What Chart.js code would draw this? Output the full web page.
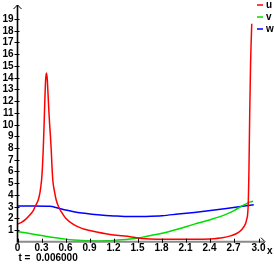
<!DOCTYPE html>
<html>
<head>
<meta charset="UTF-8">
<title>u v w</title>
<script src="https://cdn.jsdelivr.net/npm/chart.js"></script>
<style>
    body { margin: 0; padding: 0; background: #fff; }
    #wrap { width: 274px; height: 265px; position: relative; }
</style>
</head>
<body>
<div id="wrap"><canvas id="chart"></canvas></div>
<script>
// values
const uX = [0, 0.05, 0.1, 0.15, 0.2, 0.22, 0.26, 0.28, 0.29, 0.3, 0.31, 0.32, 0.33, 0.34, 0.35, 0.36, 0.37, 0.38, 0.39, 0.4, 0.41, 0.42, 0.43, 0.44, 0.46, 0.48, 0.51, 0.55, 0.6, 0.7, 0.8, 0.9, 1.0, 1.1, 1.2, 1.3, 1.4, 1.5, 1.6, 1.8, 2.0, 2.2, 2.4, 2.55, 2.65, 2.75, 2.82, 2.85, 2.87, 2.88, 2.89, 2.9, 2.915];
const uY = [1.5, 1.65, 1.9, 2.25, 2.7, 3.0, 3.6, 4.2, 4.7, 5.3, 6.3, 7.8, 9.8, 12.0, 13.8, 14.4, 13.9, 12.6, 11.2, 10.0, 9.0, 7.8, 6.3, 5.2, 4.3, 3.6, 3.0, 2.5, 2.0, 1.45, 1.14, 0.95, 0.8, 0.67, 0.57, 0.5, 0.43, 0.32, 0.26, 0.21, 0.2, 0.2, 0.24, 0.34, 0.5, 0.8, 1.3, 1.85, 3.0, 6, 11, 15, 18.6];

const vX = [0, 0.1, 0.2, 0.3, 0.4, 0.5, 0.6, 0.7, 0.8, 0.9, 1.0, 1.1, 1.2, 1.3, 1.4, 1.5, 1.6, 1.8, 2.0, 2.2, 2.4, 2.6, 2.7, 2.8, 2.9, 2.93];
const vY = [0.87, 0.76, 0.64, 0.52, 0.41, 0.31, 0.22, 0.15, 0.1, 0.08, 0.07, 0.08, 0.11, 0.16, 0.23, 0.32, 0.45, 0.72, 1.08, 1.5, 1.88, 2.35, 2.68, 3.08, 3.4, 3.45];

const wX = [0, 0.2, 0.4, 0.5, 0.6, 0.7, 0.8, 0.9, 1.0, 1.2, 1.4, 1.6, 1.8, 2.0, 2.2, 2.4, 2.6, 2.8, 2.94];
const wY = [3.05, 3.05, 3.02, 2.88, 2.7, 2.56, 2.45, 2.37, 2.3, 2.2, 2.14, 2.16, 2.22, 2.36, 2.5, 2.66, 2.84, 3.03, 3.15];

const xTicks = [0, 0.3, 0.6, 0.9, 1.2, 1.5, 1.8, 2.1, 2.4, 2.7, 3.0];
const xTickLabels = ['0', '0.3', '0.6', '0.9', '1.2', '1.5', '1.8', '2.1', '2.4', '2.7', '3.0'];
const yTicks = [1, 2, 3, 4, 5, 6, 7, 8, 9, 10, 11, 12, 13, 14, 15, 16, 17, 18, 19];
const timeLabel = 't =  0.006000';

function pts(xs, ys) {
    return xs.map((x, i) => ({ x: x, y: ys[i] }));
}

const font = 'bold 10px "Liberation Sans", Arial, sans-serif';

// axes, ticks and legend drawn on top of the scales
const axesPlugin = {
    id: 'axesPlugin',
    afterDatasetsDraw(chart) {
        const ctx = chart.ctx;
        const xs = chart.scales.x, ys = chart.scales.y;
        const x0 = xs.getPixelForValue(0), y0 = ys.getPixelForValue(0);
        const right = chart.chartArea.right, top = chart.chartArea.top;
        ctx.save();

        // x axis (grey)
        ctx.strokeStyle = '#8a8a8a';
        ctx.lineWidth = 2;
        ctx.beginPath();
        ctx.moveTo(x0, y0);
        ctx.lineTo(right - 1, y0);
        ctx.stroke();
        ctx.strokeStyle = '#000';
        ctx.lineWidth = 1;
        ctx.beginPath();
        ctx.moveTo(right - 4, y0 - 4);
        ctx.lineTo(right, y0);
        ctx.lineTo(right - 4, y0 + 4);
        ctx.stroke();

        // y axis (black)
        ctx.lineWidth = 1.6;
        ctx.beginPath();
        ctx.moveTo(x0, y0 + 1);
        ctx.lineTo(x0, top);
        ctx.stroke();
        ctx.lineWidth = 1;
        ctx.beginPath();
        ctx.moveTo(x0 - 4, top + 4);
        ctx.lineTo(x0, top);
        ctx.lineTo(x0 + 4, top + 4);
        ctx.stroke();

        ctx.font = font;
        ctx.fillStyle = '#000';

        // y ticks
        ctx.textAlign = 'right';
        ctx.textBaseline = 'middle';
        yTicks.forEach(v => {
            const py = Math.round(ys.getPixelForValue(v)) + 0.5;
            ctx.beginPath();
            ctx.moveTo(x0 - 3, py);
            ctx.lineTo(x0 + 2, py);
            ctx.stroke();
            ctx.fillText(String(v), x0 - 4, py);
        });

        // x ticks
        ctx.textAlign = 'center';
        ctx.textBaseline = 'top';
        xTicks.forEach((v, i) => {
            const px = Math.round(xs.getPixelForValue(v)) + 0.5;
            ctx.beginPath();
            ctx.moveTo(px, y0 - 3);
            ctx.lineTo(px, y0 + 1);
            ctx.stroke();
            ctx.fillText(xTickLabels[i], px - 1, y0 + 2);
        });
        ctx.textAlign = 'left';
        ctx.fillText('x', right + 2, y0 + 5);

        ctx.fillText(timeLabel, x0 + 1, y0 + 12);

        // legend, top right
        ctx.textBaseline = 'middle';
        chart.data.datasets.forEach((ds, i) => {
            const ly = 5 + i * 12;
            ctx.strokeStyle = ds.borderColor;
            ctx.lineWidth = 1.5;
            ctx.beginPath();
            ctx.moveTo(257, ly);
            ctx.lineTo(263, ly);
            ctx.stroke();
            ctx.fillText(ds.label, 266, ly);
        });
        ctx.restore();
    }
};

new Chart(document.getElementById('chart'), {
    type: 'line',
    data: {
        datasets: [
            { label: 'u', data: pts(uX, uY), borderColor: '#ff0000', borderWidth: 1.5 },
            { label: 'v', data: pts(vX, vY), borderColor: '#00dd00', borderWidth: 1.5 },
            { label: 'w', data: pts(wX, wY), borderColor: '#0000ff', borderWidth: 1.5 }
        ]
    },
    options: {
        responsive: true,
        maintainAspectRatio: false,
        animation: false,
        layout: { padding: { left: 17.5, right: 9, top: 5, bottom: 23.3 } },
        elements: {
            point: { radius: 0 },
            line: { cubicInterpolationMode: 'monotone', fill: false }
        },
        plugins: { legend: { display: false }, tooltip: { enabled: false } },
        scales: {
            x: { type: 'linear', min: 0, max: 3.08, display: false },
            y: { type: 'linear', min: 0, max: 20.2, display: false }
        }
    },
    plugins: [axesPlugin]
});
</script>
</body>
</html>
